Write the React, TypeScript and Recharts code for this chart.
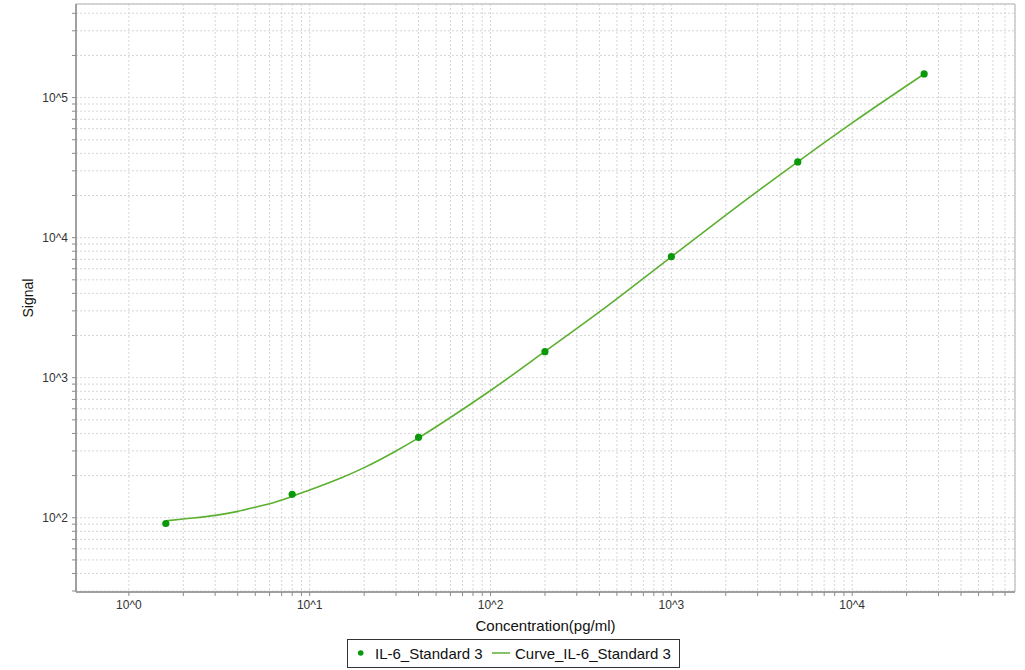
import React from "react";
import {
  ComposedChart,
  Line,
  Scatter,
  XAxis,
  YAxis,
  CartesianGrid,
  ReferenceLine,
  Label,
} from "recharts";

// Standards (measured points)
const standardConc = [1.6, 8, 40, 200, 1000, 5000, 25000];
const standardSignal = [91, 147, 375, 1534, 7310, 34750, 147500];

// Fitted curve
const curveConc = [1.6, 2, 3, 4, 5, 6, 8, 10, 15, 20, 30, 40, 60, 100, 200, 400, 1000, 2000, 5000, 10000, 25000];
const curveSignal = [95, 98, 104, 111, 119, 126, 142, 158, 193, 228, 300, 372, 520, 810, 1540, 2950, 7300, 14500, 34800, 66000, 147500];

// Axis ticks
const xTicks = [
  1, 2, 3, 4, 5, 6, 7, 8, 9,
  10, 20, 30, 40, 50, 60, 70, 80, 90,
  100, 200, 300, 400, 500, 600, 700, 800, 900,
  1000, 2000, 3000, 4000, 5000, 6000, 7000, 8000, 9000,
  10000, 20000, 30000, 40000, 50000, 60000, 70000,
];
const xLabelValues = [1, 10, 100, 1000, 10000];
const xLabels = ["10^0", "10^1", "10^2", "10^3", "10^4"];

const yTicks = [
  30, 40, 50, 60, 70, 80, 90,
  100, 200, 300, 400, 500, 600, 700, 800, 900,
  1000, 2000, 3000, 4000, 5000, 6000, 7000, 8000, 9000,
  10000, 20000, 30000, 40000, 50000, 60000, 70000, 80000, 90000,
  100000, 200000, 300000, 400000,
];
const yLabelValues = [100, 1000, 10000, 100000];
const yLabels = ["10^2", "10^3", "10^4", "10^5"];

const xDomain = [0.51, 79500];
const yDomain = [29.5, 466000];

const seriesNames = ["IL-6_Standard 3", "Curve_IL-6_Standard 3"];

const standardData = standardConc.map((x, i) => ({ x, y: standardSignal[i] }));
const curveData = curveConc.map((x, i) => ({ x, y: curveSignal[i] }));

const FONT = "'Liberation Sans', Arial, sans-serif";
const POINT_COLOR = "#0a990a";
const LINE_COLOR = "#5cb030";

const fmtX = (v: number) => {
  const i = xLabelValues.indexOf(v);
  return i >= 0 ? xLabels[i] : "";
};
const fmtY = (v: number) => {
  const i = yLabelValues.indexOf(v);
  return i >= 0 ? yLabels[i] : "";
};

const Dot = (props: any) => {
  const { cx, cy } = props;
  if (cx == null || cy == null) return null;
  return <circle cx={cx} cy={cy} r={3.6} fill={POINT_COLOR} stroke="none" />;
};

export default function App() {
  return (
    <div style={{ position: "absolute", left: 0, top: 0, width: 1025, height: 670, background: "#fff", fontFamily: FONT }}>
      <ComposedChart
        width={1025}
        height={670}
        margin={{ top: 4, right: 10, left: 0, bottom: 0 }}
        style={{ fontFamily: FONT }}
      >
        <CartesianGrid stroke="#d6d6d6" strokeDasharray="2 2" />
        <XAxis
          dataKey="x"
          type="number"
          scale="log"
          domain={xDomain}
          allowDataOverflow
          ticks={xTicks}
          interval={0}
          tickFormatter={fmtX}
          height={78}
          tickSize={4}
          tickMargin={4}
          axisLine={{ stroke: "#a0a0a0", strokeWidth: 2 }}
          tickLine={{ stroke: "#8a8a8a" }}
          tick={{ fill: "#333", fontSize: 12, fontFamily: FONT }}
        >
          <Label
            content={(p: any) => {
              const vb = p.viewBox || {};
              return (
                <text
                  x={vb.x + vb.width / 2}
                  y={vb.y + 39}
                  textAnchor="middle"
                  fontSize={15}
                  fill="#111"
                  fontFamily={FONT}
                >
                  Concentration(pg/ml)
                </text>
              );
            }}
          />
        </XAxis>
        <YAxis
          type="number"
          scale="log"
          domain={yDomain}
          allowDataOverflow
          ticks={yTicks}
          interval={0}
          tickFormatter={fmtY}
          width={76}
          tickSize={4}
          tickMargin={4}
          axisLine={{ stroke: "#a0a0a0", strokeWidth: 2 }}
          tickLine={{ stroke: "#8a8a8a" }}
          tick={{ fill: "#333", fontSize: 12, fontFamily: FONT }}
        >
          <Label
            content={(p: any) => {
              const vb = p.viewBox || {};
              const cx = 28;
              const cy = vb.y + vb.height / 2;
              return (
                <text
                  x={cx}
                  y={cy}
                  textAnchor="middle"
                  dominantBaseline="central"
                  transform={`rotate(-90 ${cx} ${cy})`}
                  fontSize={14}
                  fill="#111"
                  fontFamily={FONT}
                >
                  Signal
                </text>
              );
            }}
          />
        </YAxis>
        <ReferenceLine y={yDomain[1]} stroke="#c8c8c8" strokeWidth={1.5} />
        <ReferenceLine x={xDomain[1]} stroke="#c8c8c8" strokeWidth={1.5} />
        <Line
          data={curveData}
          dataKey="y"
          name={seriesNames[1]}
          type="monotone"
          stroke={LINE_COLOR}
          strokeWidth={1.6}
          dot={false}
          activeDot={false}
          isAnimationActive={false}
        />
        <Scatter
          data={standardData}
          dataKey="y"
          name={seriesNames[0]}
          fill={POINT_COLOR}
          shape={<Dot />}
          isAnimationActive={false}
        />
      </ComposedChart>
      <div
        style={{
          position: "absolute",
          left: 347,
          top: 639,
          width: 333,
          height: 29,
          boxSizing: "border-box",
          border: "1px solid #333",
          fontSize: 15,
          color: "#111",
          fontFamily: FONT,
          whiteSpace: "nowrap",
        }}
      >
        <svg width={333} height={27} style={{ position: "absolute", left: -1, top: -1 }}>
          <circle cx={13.7} cy={14} r={2.8} fill={POINT_COLOR} />
          <line x1={145} y1={14} x2={163} y2={14} stroke={LINE_COLOR} strokeWidth={1.5} />
        </svg>
        <span style={{ position: "absolute", left: 27, top: 4.5, lineHeight: "18px" }}>{seriesNames[0]}</span>
        <span style={{ position: "absolute", left: 167, top: 4.5, lineHeight: "18px" }}>{seriesNames[1]}</span>
      </div>
    </div>
  );
}
